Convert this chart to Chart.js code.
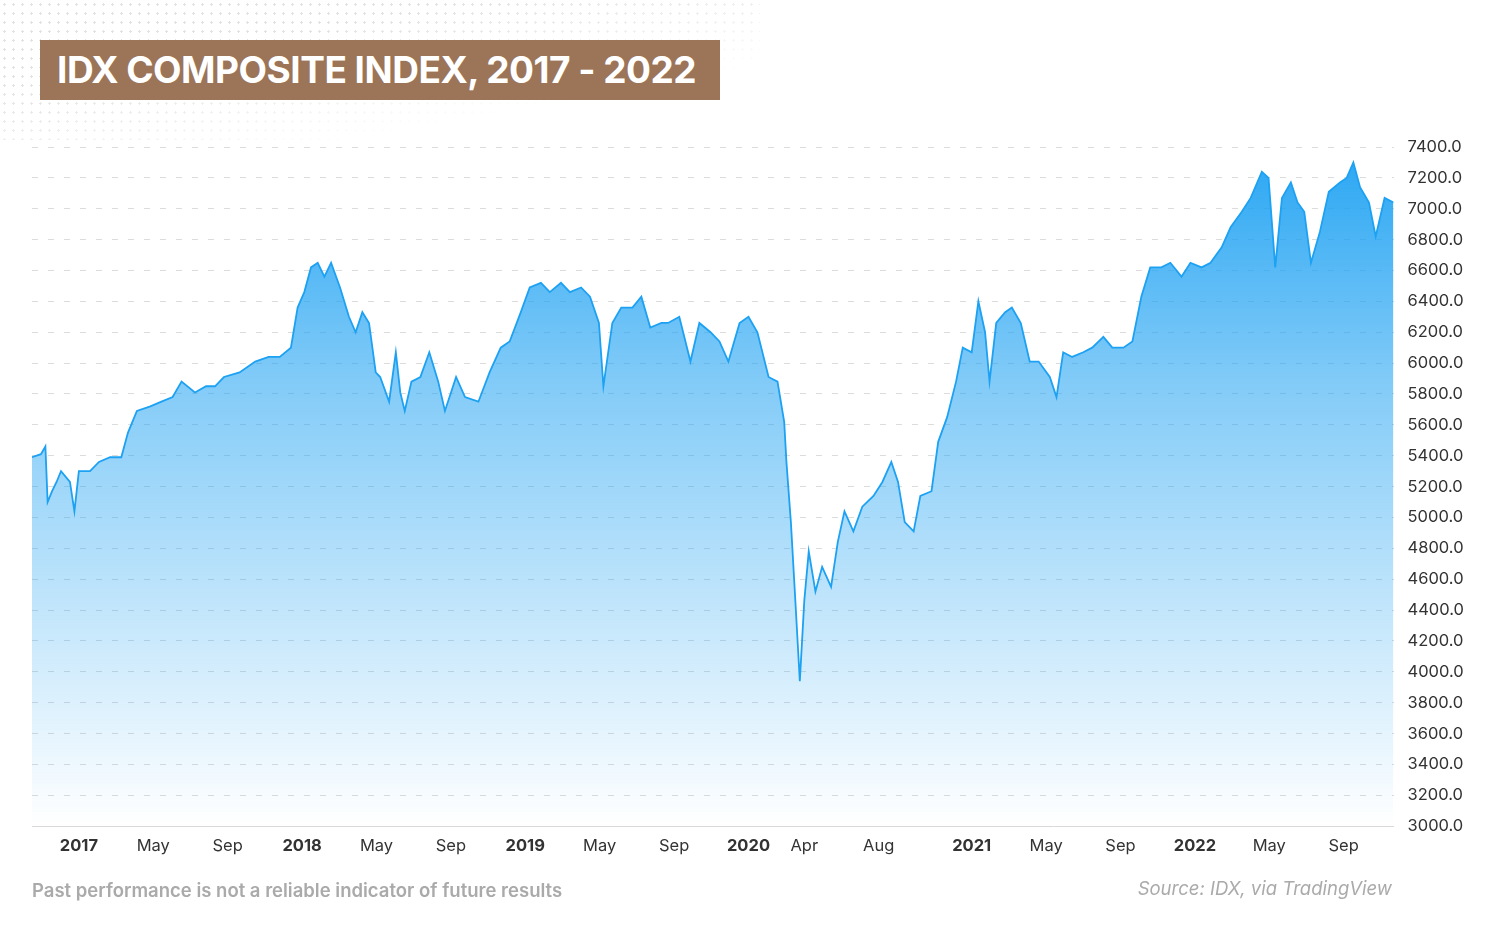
<!DOCTYPE html>
<html><head><meta charset="utf-8">
<script src="https://cdn.jsdelivr.net/npm/chart.js@4/dist/chart.umd.min.js"></script>
<style>
html,body{margin:0;padding:0;background:#fff;width:1500px;height:932px;overflow:hidden;font-family:Inter,Lato,sans-serif}
#dots{position:absolute;left:0;top:0;width:760px;height:140px;background-image:radial-gradient(#e2e2e2 1px,transparent 1.3px);background-size:9px 9px;-webkit-mask-image:linear-gradient(to bottom right,#000 30%,transparent 75%)}
#title{position:absolute;left:40px;top:40px;width:680px;height:60px;background:#9C7457;color:#fff;font-weight:700;font-size:37px;line-height:60px;padding-left:17px;box-sizing:border-box;letter-spacing:-0.5px}
#wrap{position:absolute;left:0;top:0;width:1500px;height:932px}
#foot1{position:absolute;left:32px;top:879px;font-size:18.5px;font-weight:600;color:#aaa}
#foot2{position:absolute;right:108px;top:877px;font-size:18.5px;font-style:italic;color:#aaa}
</style></head><body>
<div id="dots"></div>
<div id="wrap"><canvas id="c" width="1500" height="932"></canvas></div>
<div id="title">IDX COMPOSITE INDEX, 2017 - 2022</div>
<div id="foot1">Past performance is not a reliable indicator of future results</div>
<div id="foot2">Source: IDX, via TradingView</div>
<script>
const dates=[2016.79,2016.83,2016.85,2016.86,2016.88,2016.90,2016.92,2016.96,2016.98,2017.00,2017.05,2017.09,2017.14,2017.19,2017.22,2017.26,2017.32,2017.37,2017.42,2017.46,2017.52,2017.57,2017.61,2017.65,2017.72,2017.79,2017.85,2017.90,2017.95,2017.98,2018.01,2018.04,2018.07,2018.10,2018.13,2018.17,2018.21,2018.24,2018.27,2018.30,2018.33,2018.35,2018.39,2018.42,2018.44,2018.46,2018.49,2018.53,2018.57,2018.61,2018.64,2018.69,2018.73,2018.79,2018.84,2018.89,2018.93,2018.98,2019.02,2019.07,2019.11,2019.16,2019.20,2019.25,2019.29,2019.33,2019.35,2019.39,2019.43,2019.48,2019.52,2019.56,2019.61,2019.64,2019.69,2019.74,2019.78,2019.83,2019.87,2019.91,2019.96,2020.00,2020.04,2020.09,2020.13,2020.16,2020.17,2020.19,2020.21,2020.23,2020.25,2020.27,2020.30,2020.33,2020.37,2020.40,2020.43,2020.47,2020.51,2020.56,2020.60,2020.64,2020.67,2020.70,2020.74,2020.77,2020.82,2020.85,2020.89,2020.93,2020.96,2021.00,2021.03,2021.06,2021.08,2021.11,2021.15,2021.18,2021.22,2021.26,2021.30,2021.35,2021.38,2021.41,2021.45,2021.50,2021.54,2021.59,2021.63,2021.68,2021.72,2021.76,2021.80,2021.85,2021.89,2021.94,2021.98,2022.03,2022.07,2022.12,2022.16,2022.21,2022.25,2022.30,2022.33,2022.36,2022.39,2022.43,2022.46,2022.49,2022.52,2022.56,2022.60,2022.65,2022.68,2022.71,2022.74,2022.78,2022.81,2022.85,2022.89];
const values=[5390,5410,5460,5100,5170,5230,5300,5230,5040,5300,5300,5360,5390,5390,5550,5690,5720,5750,5780,5880,5810,5850,5850,5910,5940,6010,6040,6040,6100,6360,6460,6620,6650,6560,6650,6490,6300,6200,6330,6260,5940,5910,5750,6070,5810,5690,5880,5910,6070,5880,5690,5910,5780,5750,5940,6100,6140,6330,6490,6520,6460,6520,6460,6490,6430,6260,5850,6260,6360,6360,6430,6230,6260,6260,6300,6010,6260,6200,6140,6010,6260,6300,6200,5910,5880,5620,5360,4970,4460,3940,4460,4780,4520,4680,4550,4840,5040,4910,5070,5140,5230,5360,5230,4970,4910,5140,5170,5490,5650,5880,6100,6070,6400,6200,5880,6260,6330,6360,6260,6010,6010,5910,5780,6070,6040,6070,6100,6170,6100,6100,6140,6430,6620,6620,6650,6560,6650,6620,6650,6750,6880,6980,7070,7240,7200,6620,7070,7170,7040,6980,6650,6850,7110,7170,7200,7300,7140,7040,6820,7070,7040];
const tickPos=[2017,2017+4/12,2017+8/12,2018,2018+4/12,2018+8/12,2019,2019+4/12,2019+8/12,2020,2020+3/12,2020+7/12,2021,2021+4/12,2021+8/12,2022,2022+4/12,2022+8/12];
const tickLabels=['2017','May','Sep','2018','May','Sep','2019','May','Sep','2020','Apr','Aug','2021','May','Sep','2022','May','Sep'];
const yTicks=[3000,3200,3400,3600,3800,4000,4200,4400,4600,4800,5000,5200,5400,5600,5800,6000,6200,6400,6600,6800,7000,7200,7400];
const pts=dates.map((d,i)=>({x:d,y:values[i]}));
new Chart(document.getElementById('c'),{
 type:'line',
 data:{datasets:[{data:pts,borderColor:'#1DA1F2',borderWidth:1.8,pointRadius:0,tension:0,fill:'start',
  backgroundColor:(ctx)=>{const a=ctx.chart.chartArea;if(!a)return 'rgba(29,161,242,0.5)';const g=ctx.chart.ctx.createLinearGradient(0,a.top,0,a.bottom);g.addColorStop(0,'rgba(29,161,242,0.95)');g.addColorStop(0.35,'rgba(29,161,242,0.55)');g.addColorStop(1,'rgba(29,161,242,0)');return g;}}]},
 options:{responsive:false,animation:false,
  layout:{padding:{left:32,top:147,right:22,bottom:66}},
  plugins:{legend:{display:false},tooltip:{enabled:false}},
  scales:{
   x:{type:'linear',min:2016.79,max:2022.89,
    afterBuildTicks:(s)=>{s.ticks=tickPos.map(v=>({value:v}));},
    ticks:{autoSkip:false,maxRotation:0,padding:10,color:'#333',
     callback:(v,i)=>tickLabels[i],
     font:(c)=>({family:'Inter',size:16.5,weight:/^\d{4}$/.test(tickLabels[c.index]||'')?'bold':'normal'})},
    grid:{display:false,drawTicks:false},border:{color:'#d8d8d8'}},
   y:{position:'right',min:3000,max:7400,
    afterBuildTicks:(s)=>{s.ticks=yTicks.map(v=>({value:v}));},
    ticks:{padding:14,color:'#333',font:{family:'Inter',size:16.5},callback:(v)=>Number(v).toFixed(1)},
    grid:{color:'#dcdcdc',drawTicks:false,tickLength:0},border:{display:false,dash:[6,10]}}
  }}
});
</script></body></html>
